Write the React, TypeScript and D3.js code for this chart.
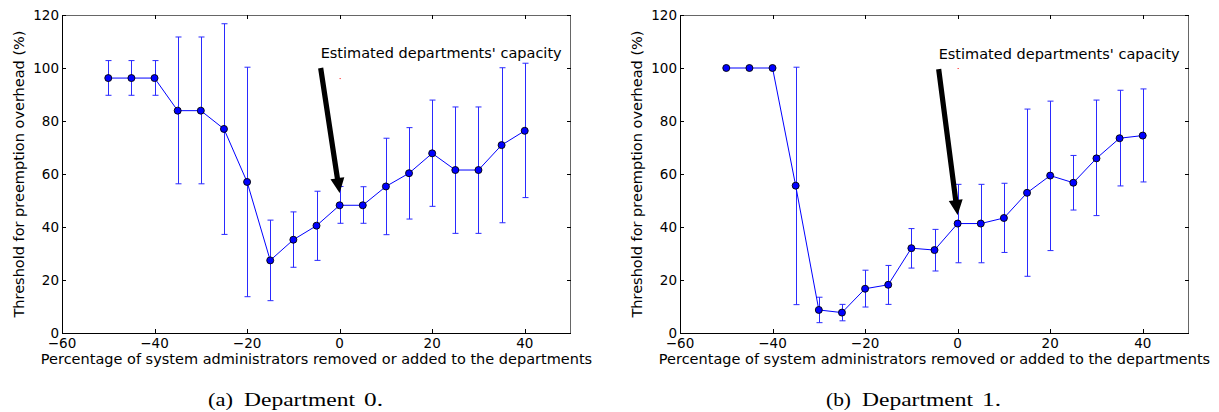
import React from 'react';
import * as d3 from 'd3';

// x positions: percentage of sysadmins removed/added
const shifts = [-50, -45, -40, -35, -30, -25, -20, -15, -10, -5, 0, 5, 10, 15, 20, 25, 30, 35, 40];

// Department 0
const dept0Mean = [96.2, 96.2, 96.2, 83.9, 83.9, 77, 57, 27.4, 35.2, 40.5, 48.2, 48.2, 55.3, 60.3, 67.8, 61.5, 61.5, 70.9, 76.3];
const dept0Upper = [102.8, 102.8, 102.8, 111.7, 111.7, 116.7, 100.3, 42.6, 45.7, 53.5, 55.3, 55.2, 73.5, 77.5, 87.9, 85.3, 85.3, 100.1, 101.8];
const dept0Lower = [89.7, 89.7, 89.7, 56.3, 56.3, 37.2, 13.7, 12.2, 24.8, 27.4, 41.4, 41.4, 37.1, 43, 47.8, 37.6, 37.6, 41.6, 51.1];

// Department 1
const dept1Mean = [100, 100, 100, 55.6, 8.7, 7.7, 16.7, 18.2, 32, 31.3, 41.3, 41.3, 43.4, 52.9, 59.4, 56.7, 65.9, 73.5, 74.5];
const dept1Upper = [100, 100, 100, 100.3, 13.5, 10.8, 23.7, 25.5, 39.4, 39.1, 56.1, 56.1, 56.5, 84.5, 87.5, 67, 87.9, 91.6, 92.1];
const dept1Lower = [100, 100, 100, 10.7, 3.9, 4.6, 9.8, 10.8, 24.5, 23.4, 26.5, 26.5, 30.4, 21.4, 31.1, 46.4, 44.3, 55.5, 57];

const xTicks = [-60, -40, -20, 0, 20, 40];
const yTicks = [0, 20, 40, 60, 80, 100, 120];

// annotation arrow: tail / tip in data coords
const dept0Arrow = [[-4.1, 100], [0, 52.8]];
const dept1Arrow = [[-4.1, 99.6], [0, 44.5]];

const ANNOTATION = "Estimated departments' capacity";
const X_LABEL = 'Percentage of system administrators removed or added to the departments';
const Y_LABEL = 'Threshold for preemption overhead (%)';

const SANS = '"DejaVu Sans", sans-serif';
const SERIF = '"Liberation Serif", "Times New Roman", serif';

const W = 509;
const TOP = 15;
const BOTTOM = 333;
const TICK = 4;

const fmt = (v: number) => (v < 0 ? '\u2212' + Math.abs(v) : String(v));

function arrowPoints(tail: number[], tip: number[]) {
    const dx = tip[0] - tail[0];
    const dy = tip[1] - tail[1];
    const len = Math.hypot(dx, dy);
    const ux = dx / len, uy = dy / len;
    const px = -uy, py = ux;
    const shaft = 2.6, head = 7, headLen = 15;
    const bx = tip[0] - ux * headLen, by = tip[1] - uy * headLen;
    return [
        [tail[0] + px * shaft, tail[1] + py * shaft],
        [bx + px * shaft, by + py * shaft],
        [bx + px * head, by + py * head],
        tip,
        [bx - px * head, by - py * head],
        [bx - px * shaft, by - py * shaft],
        [tail[0] - px * shaft, tail[1] - py * shaft],
    ].map(p => p.join(',')).join(' ');
}

const Panel = ({ left, mean, upper, lower, arrow, label, tag }) => {
    const x = d3.scaleLinear().domain([-60, 50]).range([left, left + W]);
    const y = d3.scaleLinear().domain([0, 120]).range([BOTTOM, TOP]);
    const right = left + W;
    const mid = left + W / 2;

    const path = d3.line<number>()
        .x((_, i) => x(shifts[i]))
        .y(d => y(d))(mean);

    const tail = [x(arrow[0][0]), y(arrow[0][1])];
    const tip = [x(arrow[1][0]), y(arrow[1][1])];

    return (
        <g fontFamily={SANS}>
            {/* frame */}
            <line x1={right - 0.5} x2={right - 0.5} y1={TOP} y2={BOTTOM} stroke="#666" />
            <line x1={left} x2={right} y1={TOP + 0.5} y2={TOP + 0.5} stroke="#666" />
            <line x1={left + 0.5} x2={left + 0.5} y1={TOP} y2={BOTTOM} stroke="#000" />
            <line x1={left} x2={right} y1={BOTTOM + 0.5} y2={BOTTOM + 0.5} stroke="#000" />

            {/* ticks */}
            {xTicks.map(t => (
                <g key={'x' + t}>
                    <line x1={Math.round(x(t)) + 0.5} x2={Math.round(x(t)) + 0.5} y1={BOTTOM} y2={BOTTOM - TICK} stroke="#000" />
                    <line x1={Math.round(x(t)) + 0.5} x2={Math.round(x(t)) + 0.5} y1={TOP} y2={TOP + TICK} stroke="#000" />
                    <text x={x(t)} y={348} fontSize={13.5} textAnchor="middle" fill="#000">{fmt(t)}</text>
                </g>
            ))}
            {yTicks.map(t => (
                <g key={'y' + t}>
                    <line x1={left} x2={left + TICK} y1={Math.round(y(t)) + 0.5} y2={Math.round(y(t)) + 0.5} stroke="#000" />
                    <line x1={right} x2={right - TICK} y1={Math.round(y(t)) + 0.5} y2={Math.round(y(t)) + 0.5} stroke="#000" />
                    <text x={left - 3} y={y(t)} dy="0.36em" fontSize={13.5} textAnchor="end" fill="#000">{t}</text>
                </g>
            ))}

            {/* error bars */}
            {shifts.map((s, i) => {
                const cx = Math.round(x(s)) + 0.5;
                if (upper[i] === lower[i]) return null;
                return (
                    <g key={'e' + s} stroke="#2a2aff" strokeWidth={1}>
                        <line x1={cx} x2={cx} y1={y(upper[i])} y2={y(lower[i])} />
                        <line x1={cx - 3} x2={cx + 3} y1={y(upper[i])} y2={y(upper[i])} />
                        <line x1={cx - 3} x2={cx + 3} y1={y(lower[i])} y2={y(lower[i])} />
                    </g>
                );
            })}

            <path d={path} fill="none" stroke="#0000ff" strokeWidth={1} />
            {shifts.map((s, i) => (
                <circle key={'p' + s} cx={x(s)} cy={y(mean[i])} r={3.5} fill="#0000ff" stroke="#000" strokeWidth={0.9} />
            ))}

            {/* annotation */}
            <rect x={x(0)} y={y(mean[0])} width={1} height={1} fill="#ff0000" />
            <polygon points={arrowPoints(tail, tip)} fill="#000" />
            <text x={tail[0]} y={tail[1] - 10} fontSize={14.5} fill="#000">{ANNOTATION}</text>

            {/* axis labels */}
            <text x={mid} y={364} fontSize={14.5} textAnchor="middle" fill="#000">{X_LABEL}</text>
            <text transform={`translate(${left - 43},${(TOP + BOTTOM) / 2}) rotate(-90)`} fontSize={14.5}
                textAnchor="middle" dy="0.36em" fill="#000">{Y_LABEL}</text>

            {/* caption */}
            <g fontFamily={SERIF} fontSize={18.5} fill="#000">
                <text x={mid - 108.5} y={406} textLength={25} lengthAdjust="spacingAndGlyphs">{`(${tag})`}</text>
                <text x={mid - 72.5} y={406} textLength={111} lengthAdjust="spacingAndGlyphs">Department</text>
                <text x={mid + 47.5} y={406} textLength={19} lengthAdjust="spacingAndGlyphs">{`${label}.`}</text>
            </g>
        </g>
    );
};

export default function App() {
    return (
        <svg width={1219} height={412} style={{ position: 'absolute', left: 0, top: 0, background: '#fff' }}>
            <Panel left={62} mean={dept0Mean} upper={dept0Upper} lower={dept0Lower} arrow={dept0Arrow} label="0" tag="a" />
            <Panel left={680} mean={dept1Mean} upper={dept1Upper} lower={dept1Lower} arrow={dept1Arrow} label="1" tag="b" />
        </svg>
    );
}
